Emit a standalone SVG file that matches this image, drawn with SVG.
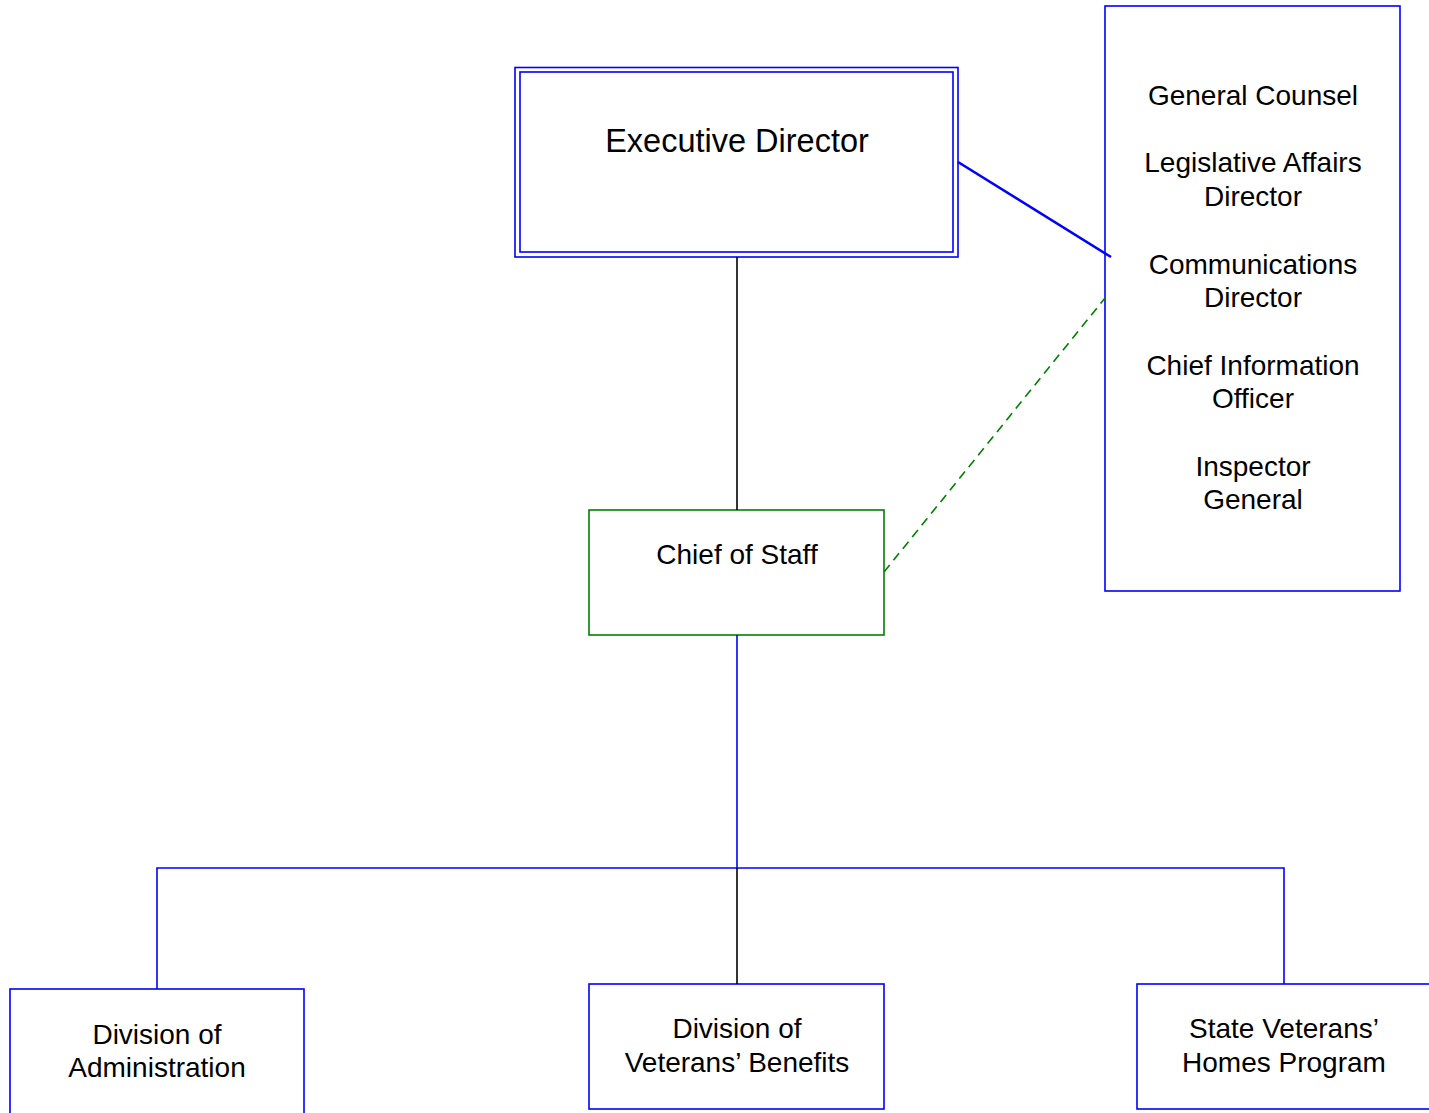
<svg xmlns="http://www.w3.org/2000/svg" width="1429" height="1113" viewBox="0 0 1429 1113">
<style>
text{font-family:"Liberation Sans",Arial,sans-serif;font-size:28px;fill:#000;text-anchor:middle}
.b{fill:#fff;stroke:#0000ff;stroke-width:1.6}
.g{fill:#fff;stroke:#008000;stroke-width:1.6}
.cb{stroke:#0000ff;stroke-width:1.6;fill:none}
.ck{stroke:#000;stroke-width:1.6;fill:none}
</style>
<rect width="1429" height="1113" fill="#fff"/>
<g id="executive-director">
<rect class="b" x="515" y="67.5" width="443" height="189.5"/>
<rect class="b" x="520" y="72" width="433" height="180"/>
<text x="737" y="152" style="font-size:32.5px">Executive Director</text>
</g>
<g id="staff-offices">
<rect class="b" x="1105" y="6" width="295" height="585"/>
<text x="1253" y="105">General Counsel</text>
<text x="1253" y="172">Legislative Affairs</text>
<text x="1253" y="206">Director</text>
<text x="1253" y="274">Communications</text>
<text x="1253" y="307">Director</text>
<text x="1253" y="375">Chief Information</text>
<text x="1253" y="408">Officer</text>
<text x="1253" y="476">Inspector</text>
<text x="1253" y="509">General</text>
</g>
<g id="chief-of-staff">
<rect class="g" x="589" y="510" width="295" height="125"/>
<text x="737" y="564">Chief of Staff</text>
</g>
<g id="division-administration">
<rect class="b" x="10" y="989" width="294" height="130"/>
<text x="157" y="1044">Division of</text>
<text x="157" y="1077">Administration</text>
</g>
<g id="division-veterans-benefits">
<rect class="b" x="589" y="984" width="295" height="125"/>
<text x="737" y="1038">Division of</text>
<text x="737" y="1072">Veterans’ Benefits</text>
</g>
<g id="state-veterans-homes">
<rect class="b" x="1137" y="984" width="300" height="125"/>
<text x="1284" y="1038">State Veterans’</text>
<text x="1284" y="1072">Homes Program</text>
</g>
<g id="connectors">
<line class="ck" x1="737" y1="257" x2="737" y2="510"/>
<line stroke="#0000ff" stroke-width="2.6" x1="958" y1="162" x2="1111" y2="257"/>
<line stroke="#008000" stroke-width="1.6" stroke-dasharray="9 6" x1="884" y1="572" x2="1105" y2="298"/>
<line class="cb" x1="737" y1="635" x2="737" y2="868"/>
<polyline class="cb" points="157,989 157,868 1284,868 1284,984"/>
<line class="ck" x1="737" y1="868" x2="737" y2="984"/>
</g>
</svg>
